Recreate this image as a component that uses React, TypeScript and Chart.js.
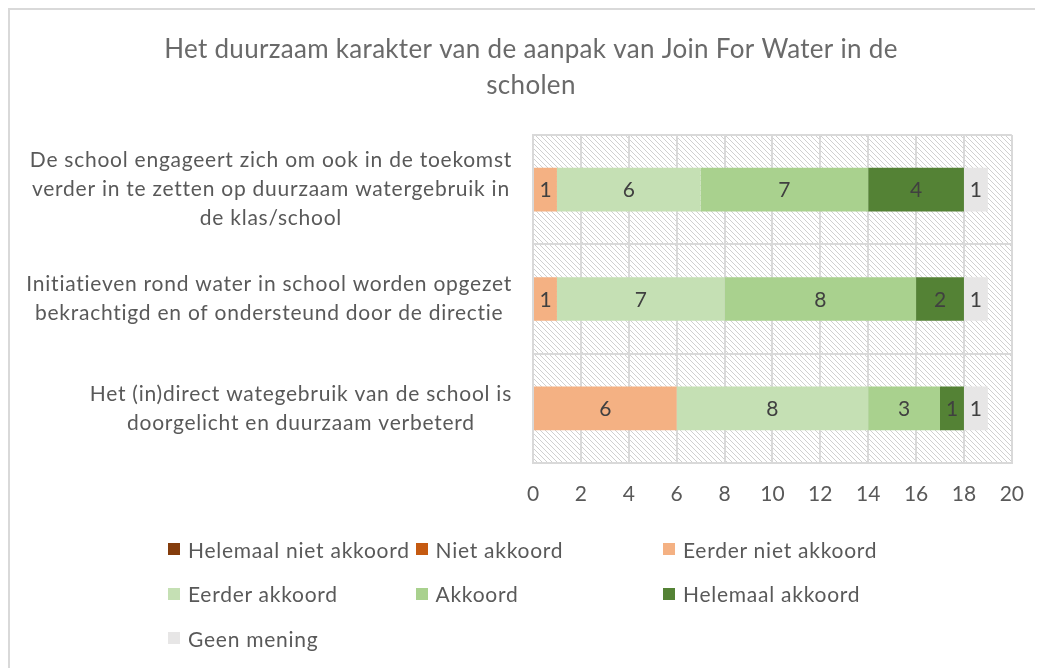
import React, { useEffect, useRef } from "react";
import { Chart, registerables } from "chart.js";

Chart.register(...registerables);

const titleLines = ["Het duurzaam karakter van de aanpak van Join For Water in de", "scholen"];

const categories = [
  ["De school engageert zich om ook in de toekomst", "verder in te zetten op duurzaam watergebruik in", "de klas/school"],
  ["Initiatieven rond water in school worden opgezet", "bekrachtigd en of ondersteund door de directie"],
  ["Het (in)direct wategebruik van de school is", "doorgelicht en duurzaam verbeterd"],
];

const seriesNames = [
  "Helemaal niet akkoord",
  "Niet akkoord",
  "Eerder niet akkoord",
  "Eerder akkoord",
  "Akkoord",
  "Helemaal akkoord",
  "Geen mening",
];

const helemaalNietAkkoord = [0, 0, 0];
const nietAkkoord = [0, 0, 0];
const eerderNietAkkoord = [1, 1, 6];
const eerderAkkoord = [6, 7, 8];
const akkoord = [7, 8, 3];
const helemaalAkkoord = [4, 2, 1];
const geenMening = [1, 1, 1];

const seriesValues = [helemaalNietAkkoord, nietAkkoord, eerderNietAkkoord, eerderAkkoord, akkoord, helemaalAkkoord, geenMening];
const seriesColors = ["#843c0c", "#c55a11", "#f4b183", "#c5e0b4", "#a9d18e", "#548235", "#e7e6e6"];

const xMin = 0;
const xMax = 20;
const xStep = 2;

const FONT = "Lato, 'Open Sans', sans-serif";
const TEXT = "#595959";
const GRID = "#d9d9d9";

function makePattern(ctx: CanvasRenderingContext2D) {
  const s = 5;
  const c = document.createElement("canvas");
  c.width = s;
  c.height = s;
  const g = c.getContext("2d")!;
  g.fillStyle = "#ffffff";
  g.fillRect(0, 0, s, s);
  g.strokeStyle = "#d0d0d0";
  g.lineWidth = 1;
  for (const k of [-s, 0, s]) {
    g.beginPath();
    g.moveTo(k, 0);
    g.lineTo(k + s, s);
    g.stroke();
  }
  return ctx.createPattern(c, "repeat");
}

const hatchPlugin = {
  id: "hatch",
  beforeDraw(chart: any) {
    const { ctx, chartArea } = chart;
    const p = makePattern(ctx);
    if (!p) return;
    ctx.save();
    ctx.fillStyle = p;
    ctx.fillRect(chartArea.left, chartArea.top, chartArea.right - chartArea.left, chartArea.bottom - chartArea.top);
    ctx.restore();
  },
};

const textPlugin = {
  id: "texts",
  afterDraw(chart: any) {
    const { ctx, chartArea } = chart;
    const yScale = chart.scales.y;
    ctx.save();
    // title
    ctx.fillStyle = "#6a6a6a";
    ctx.font = `26px ${FONT}`;
    (ctx as any).letterSpacing = "0.3px";
    ctx.textAlign = "center";
    ctx.textBaseline = "alphabetic";
    titleLines.forEach((t, i) => ctx.fillText(t, 521, 48 + i * 36));
    // category labels
    ctx.fillStyle = TEXT;
    ctx.font = `21px ${FONT}`;
    (ctx as any).letterSpacing = "0.75px";
    ctx.textBaseline = "middle";
    const lh = 29;
    categories.forEach((lines, i) => {
      const yc = yScale.getPixelForValue(i);
      const w = Math.max(...lines.map((l) => ctx.measureText(l).width));
      const cx = chartArea.left - 21 - w / 2;
      const y0 = yc - ((lines.length - 1) * lh) / 2;
      lines.forEach((l, j) => ctx.fillText(l, cx, y0 + j * lh));
    });
    // data labels
    ctx.fillStyle = "#404040";
    (ctx as any).letterSpacing = "0px";
    chart.data.datasets.forEach((ds: any, di: number) => {
      const meta = chart.getDatasetMeta(di);
      meta.data.forEach((el: any, i: number) => {
        const v = ds.data[i];
        if (!v) return;
        const pt = el.getCenterPoint();
        ctx.fillText(String(v), pt.x, pt.y + 1);
      });
    });
    ctx.restore();
  },
};

export default function App() {
  const ref = useRef<HTMLCanvasElement>(null);
  useEffect(() => {
    if (!ref.current) return;
    const chart = new Chart(ref.current, {
      type: "bar",
      data: {
        labels: categories.map((c) => c.join(" ")),
        datasets: seriesNames.map((name, i) => ({
          label: name,
          data: seriesValues[i],
          backgroundColor: seriesColors[i],
          borderWidth: 0,
          categoryPercentage: 1,
          barPercentage: 0.4,
        })),
      },
      options: {
        indexAxis: "y",
        responsive: false,
        animation: false,
        maintainAspectRatio: false,
        layout: { padding: { left: 0, right: 28, top: 125, bottom: 0 } },
        plugins: {
          legend: { display: false },
          title: { display: false },
          tooltip: { enabled: false },
        },
        scales: {
          x: {
            stacked: true,
            min: xMin,
            max: xMax,
            ticks: { stepSize: xStep, color: TEXT, font: { family: FONT, size: 21 }, padding: 19 },
            grid: { color: GRID, lineWidth: 2, drawTicks: false },
            border: { display: true, color: GRID, width: 2 },
            afterFit(scale: any) {
              scale.height = 658 - 453;
            },
          },
          y: {
            stacked: true,
            ticks: { display: false },
            grid: { color: GRID, lineWidth: 2, drawTicks: false, offset: true },
            border: { display: true, color: GRID, width: 2 },
            afterFit(scale: any) {
              scale.width = 523;
            },
          },
        },
      },
      plugins: [hatchPlugin, textPlugin],
    } as any);
    return () => chart.destroy();
  }, []);

  return (
    <div
      style={{
        position: "relative",
        width: 1033,
        height: 658,
        borderTop: "2px solid #d9d9d9",
        borderLeft: "2px solid #d9d9d9",
        overflow: "hidden",
      }}
    >
      <canvas ref={ref} width={1033} height={658} style={{ display: "block" }} />
      {seriesNames.map((name, i) => {
        const col = i % 3;
        const row = Math.floor(i / 3);
        return (
          <div
            key={name}
            style={{
              position: "absolute",
              left: 158 + col * 247.5,
              top: 527 + row * 44.5,
              height: 24,
              display: "flex",
              alignItems: "center",
              fontFamily: FONT,
              fontSize: 21,
              letterSpacing: "0.75px",
              color: TEXT,
              whiteSpace: "nowrap",
            }}
          >
            <span style={{ display: "inline-block", width: 12, height: 12, background: seriesColors[i], marginRight: 8 }} />
            {name}
          </div>
        );
      })}
    </div>
  );
}
